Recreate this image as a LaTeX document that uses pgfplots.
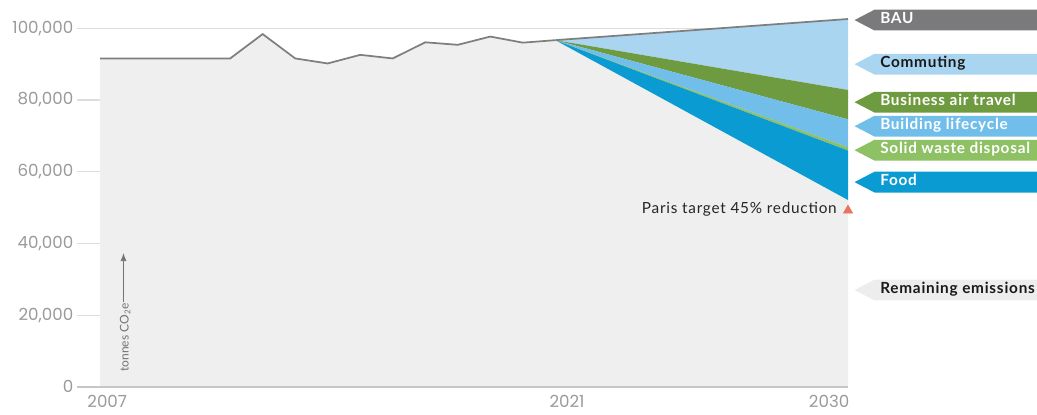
\documentclass[border=0pt]{standalone}
\usepackage{fontspec}
\setmainfont{Lato}
\newfontfamily\tickfont{Poppins}
\newfontfamily\labfont{Lato}[LetterSpace=5]
\usepackage{pgfplots}
\pgfplotsset{compat=1.18}
\usetikzlibrary{arrows.meta}

\definecolor{areagray}{HTML}{EFEFEF}
\definecolor{linegray}{HTML}{7E7E7E}
\definecolor{baugray}{HTML}{7A7A7C}
\definecolor{commute}{HTML}{A9D5F1}
\definecolor{airgreen}{HTML}{6E9A40}
\definecolor{buildblue}{HTML}{72BEEA}
\definecolor{wastegreen}{HTML}{8EC064}
\definecolor{foodblue}{HTML}{0A9BD3}
\definecolor{remgray}{HTML}{EDEDED}
\definecolor{paris}{HTML}{E8745E}
\definecolor{ticktext}{HTML}{9A9A9A}
\definecolor{gridgray}{HTML}{DDDDDD}

% emissions, tonnes CO2e
\pgfplotstableread{
year co2
2007 91600
2008 91600
2009 91600
2010 91600
2011 91600
2012 98400
2013 91600
2014 90200
2015 92600
2016 91600
2017 96100
2018 95400
2019 97700
2020 96000
2021 96700
}\history

% label tag: y, fill, text colour, text
\newcommand\tagbox[4]{%
  \fill[#2] ([xshift=4.9pt]axis cs:2030,#1) -- ++(15pt,7.8pt) -- ++(200pt,0pt)
    -- ++(0pt,-15.6pt) -- ++(-200pt,0pt) -- cycle;
  \node[anchor=mid west, inner sep=0pt, text=#3,
    font=\labfont\fontsize{11.5}{12}\selectfont\bfseries] at ([xshift=24pt]axis cs:2030,#1) {#4};}

\begin{document}
\begin{tikzpicture}
\begin{axis}[
  at={(0,0)}, anchor=south west,
  scale only axis, width=578.25pt, height=282.3pt,
  xmin=2006.29, xmax=2030, ymin=0, ymax=105000,
  axis line style={draw=none},
  major tick length=0pt,
  ymajorgrids, grid style={gridgray, line width=0.8pt},
  ytick={0,20000,40000,60000,80000,100000},
  yticklabels={0,{20,000},{40,000},{60,000},{80,000},{100,000}},
  xtick={2007.22,2021.36,2029.42},
  xticklabels={2007,2021,2030},
  ticklabel style={font=\tickfont\fontsize{12.5}{13}\selectfont, text=ticktext},
  yticklabel style={anchor=east, inner sep=2.5pt},
  xticklabel style={anchor=north, yshift=-2.5pt},
  clip=false,
]
% remaining emissions
\addplot[fill=areagray, draw=none] coordinates {
  (2007,91600) (2008,91600) (2009,91600) (2010,91600) (2011,91600)
  (2012,98400) (2013,91600) (2014,90200) (2015,92600) (2016,91600)
  (2017,96100) (2018,95400) (2019,97700) (2020,96000) (2021,96700)
  (2030,52100)} \closedcycle;
% reduction wedges
\addplot[fill=commute, draw=none] coordinates {(2021,96700) (2030,102600) (2030,82800)};
\addplot[fill=airgreen, draw=none] coordinates {(2021,96700) (2030,82800) (2030,74600)};
\addplot[fill=buildblue, draw=none] coordinates {(2021,96700) (2030,74600) (2030,66800)};
\addplot[fill=wastegreen, draw=none] coordinates {(2021,96700) (2030,66800) (2030,65900)};
\addplot[fill=foodblue, draw=none] coordinates {(2021,96700) (2030,65900) (2030,52100)};
% historical + BAU line
\addplot[linegray, line width=1.3pt] table[x=year, y=co2] {\history};
\addplot[linegray, line width=1.3pt] coordinates {(2021,96700) (2030,102600)};
% Paris target
\addplot[only marks, mark=triangle*, mark size=4pt, color=paris] coordinates {(2030,49200)};
\node[anchor=mid east, inner sep=0pt, text=black!85, font=\labfont\fontsize{11.5}{12}\selectfont]
  at ([xshift=-8.25pt]axis cs:2030,49200) {Paris target 45\% reduction};

\draw[gray!45, line width=1.3pt] (rel axis cs:0,0) -- (rel axis cs:1,0);

\node[rotate=90, anchor=west, inner sep=0pt, text=black!55, font=\fontsize{9}{10}\selectfont]
  at (axis cs:2007.77,4200) {tonnes CO\textsubscript{2}e};
\draw[black!55, line width=0.6pt, -{Latex[length=6pt,width=4.5pt]}]
  (axis cs:2007.72,23700) -- (axis cs:2007.72,37300);

\tagbox{102300}{baugray}{white}{BAU}
\tagbox{90000}{commute}{black!90}{Commuting}
\tagbox{79400}{airgreen}{white}{Business air travel}
\tagbox{72700}{buildblue}{white}{Building lifecycle}
\tagbox{66000}{wastegreen}{white}{Solid waste disposal}
\tagbox{57100}{foodblue}{white}{Food}
\tagbox{27000}{remgray}{black!90}{Remaining emissions}
\end{axis}
\pgfresetboundingbox
\path[use as bounding box] (-57.75pt,-20.4pt) rectangle (720pt,290.1pt);
\end{tikzpicture}
\end{document}
